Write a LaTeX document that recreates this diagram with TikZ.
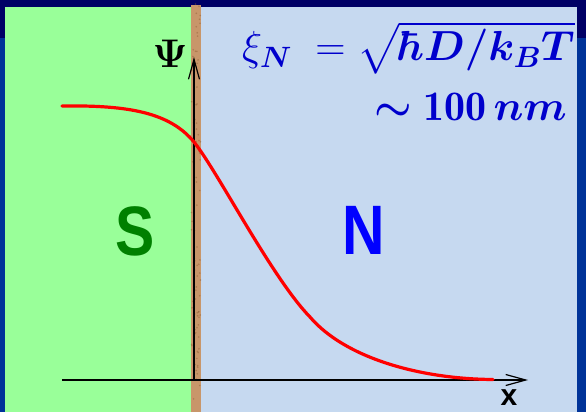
\documentclass[tikz,border=0pt]{standalone}
\usepackage{fix-cm}
\usepackage{amsmath,amssymb}
\usepackage{bm}
\usepackage{fontspec}
\newfontfamily\arialfont{Liberation Sans}
\definecolor{frameblue}{RGB}{0, 51, 153}
\definecolor{framenavy}{RGB}{0, 0, 102}
\definecolor{supergreen}{RGB}{153, 255, 153}
\definecolor{normalblue}{RGB}{198, 217, 240}
\definecolor{barrier}{RGB}{200, 150, 106}
\definecolor{barrierdark}{RGB}{139, 90, 50}
\definecolor{formula}{RGB}{0, 0, 204}
\usetikzlibrary{arrows.meta}

\begin{document}
\begin{tikzpicture}[x=1pt, y=-1pt, >={Straight Barb[length=20pt,width=11pt]},
    region/.style={inner sep=0pt, font=\arialfont\bfseries\fontsize{70}{70}\selectfont, xscale=0.84},
    axis/.style={line width=1.2pt, black}]
    \useasboundingbox (0,0) rectangle (586,412);

    % Frame
    \fill[frameblue] (0,0) rectangle (586,412);
    \fill[framenavy] (0,0) rectangle (586,38);

    % Superconductor, barrier, normal metal
    \fill[supergreen] (5,7) rectangle (191,412);
    \fill[normalblue] (201,7) rectangle (577,412);
    \fill[barrier] (191,5) rectangle (201,412);
    \pgfmathsetseed{11}
    \foreach \i in {1,...,90}
        \fill[barrierdark, opacity=0.45] ({196+4.5*rand},{208+204*rand}) circle (0.9);

    % Axes
    \coordinate (O) at (194,380);
    \coordinate (Ytip) at (194,57);
    \coordinate (Xstart) at (62,380);
    \coordinate (Xtip) at (528,380);
    \draw[axis, ->] (O) -- (Ytip);
    \draw[axis, ->] (Xstart) -- (Xtip);
    \node (psi) at (170,54) {\fontsize{40}{40}\selectfont$\bm{\Psi}$};
    \node[inner sep=0pt] (xlab) at (509,398) {\arialfont\bfseries\fontsize{30}{30}\selectfont x};

    % Order parameter
    \draw[red, line width=3.2pt, line cap=round] (62,106)
        .. controls (130,105) and (170,113) .. (194,142)
        .. controls (218,172) and (272,278) .. (310,317)
        .. controls (345,358) and (420,379) .. (493,379.5);

    % Labels
    \node[region, text={rgb,255:red,0;green,128;blue,0}] (S) at (135,231) {S};
    \node[region, text={rgb,255:red,0;green,0;blue,255}] (N) at (364,230) {N};

    % Coherence length
    \node[anchor=base west, inner sep=0pt, text=formula] (xi) at (242,61)
        {\fontsize{42}{42}\selectfont$\xi_{\bm N}\;=\sqrt{\bm{\hbar D/k_B T}}$};
    \node[anchor=base east, inner sep=0pt, text=formula] (len) at (567,120)
        {\fontsize{42}{42}\selectfont$\bm{\sim}\mathbf{100}\,\bm{nm}$};
    \fill[framenavy] (577,0) rectangle (586,38);
    \fill[frameblue] (577,38) rectangle (586,412);
\end{tikzpicture}
\end{document}
